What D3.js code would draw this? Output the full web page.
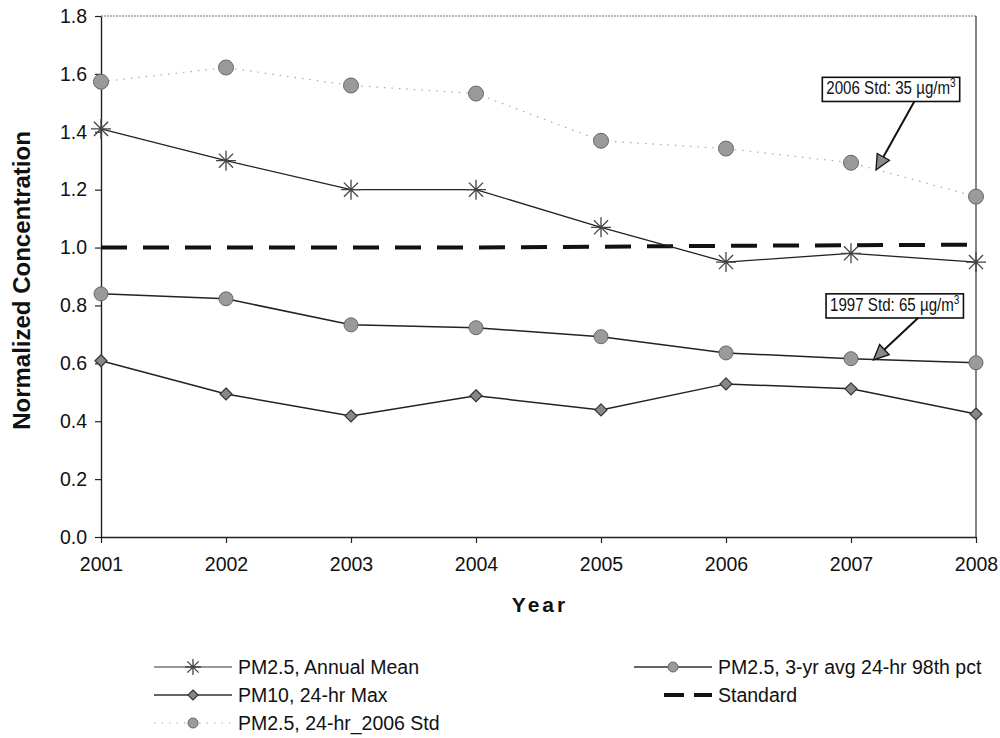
<!DOCTYPE html>
<html><head><meta charset="utf-8">
<script src="https://cdn.jsdelivr.net/npm/d3@7"></script>
<style>
body{margin:0;background:#fff;}
text{font-family:Arial,"Liberation Sans",sans-serif;}
</style></head>
<body>
<svg id="chart" width="1000" height="738"></svg>
<script>
const years = [2001, 2002, 2003, 2004, 2005, 2006, 2007, 2008];
const annualMean = [1.41, 1.30, 1.20, 1.20, 1.07, 0.95, 0.98, 0.95];
const pct98 = [0.84, 0.823, 0.733, 0.723, 0.692, 0.636, 0.616, 0.602];
const pm10Max = [0.609, 0.494, 0.418, 0.488, 0.439, 0.529, 0.512, 0.425];
const std2006 = [1.573, 1.622, 1.56, 1.532, 1.369, 1.342, 1.293, 1.176];
const standard = [1.0, 1.0, 1.0, 1.0, 1.003, 1.006, 1.008, 1.01];
const yTicks = [0, 0.2, 0.4, 0.6, 0.8, 1.0, 1.2, 1.4, 1.6, 1.8];
const legendLabels = ["PM2.5, Annual Mean", "PM10, 24-hr Max", "PM2.5, 24-hr_2006 Std", "PM2.5, 3-yr avg 24-hr 98th pct", "Standard"];
const annotations = [
  {label: "2006 Std: 35 µg/m", year: 2007.32, value: 1.53, tipYear: 2007.2, tipValue: 1.268},
  {label: "1997 Std: 65 µg/m", year: 2007.35, value: 0.782, tipYear: 2007.18, tipValue: 0.612}
];

const svg = d3.select("#chart");
const x = d3.scaleLinear().domain([2001, 2008]).range([101, 976]);
const y = d3.scaleLinear().domain([0, 1.8]).range([537, 16]);
const SX = 0.84; // horizontal compression of the scanned annotation text

// frame (top & right)
svg.append("line").attr("x1", x(2001)).attr("x2", x(2008)).attr("y1", y(1.8)).attr("y2", y(1.8))
  .attr("stroke", "#777").attr("stroke-width", 1.1).attr("stroke-dasharray", "2,1");
svg.append("line").attr("x1", x(2008)).attr("x2", x(2008)).attr("y1", y(1.8)).attr("y2", y(0))
  .attr("stroke", "#333").attr("stroke-width", 1.2);

// axes
const xAxis = svg.append("g").attr("transform", `translate(0,${y(0)})`)
  .call(d3.axisBottom(x).tickValues(years).tickFormat(d3.format("d")).tickSize(6).tickSizeOuter(0));
const yAxis = svg.append("g").attr("transform", `translate(${x(2001)},0)`)
  .call(d3.axisLeft(y).tickValues(yTicks).tickFormat(d3.format(".1f")).tickSize(6).tickSizeOuter(0));
[xAxis, yAxis].forEach(g => {
  g.select(".domain").attr("stroke", "#222").attr("stroke-width", 1.4);
  g.selectAll(".tick line").attr("stroke", "#222").attr("stroke-width", 1.2);
  g.selectAll(".tick text").attr("font-size", 19.5).attr("fill", "#111")
   .attr("font-family", "Arial, 'Liberation Sans', sans-serif");
});
xAxis.selectAll(".tick text").attr("dy", "1.3em");
yAxis.selectAll(".tick text").attr("x", -14);

// axis titles
svg.append("text").attr("transform", `translate(30,${(y(0)+y(1.8))/2 + 4}) rotate(-90)`)
  .attr("text-anchor", "middle").attr("font-size", 24).attr("font-weight", "bold").attr("fill", "#111")
  .text("Normalized Concentration");
svg.append("text").attr("x", 540).attr("y", 612).attr("text-anchor", "middle")
  .attr("font-size", 21).attr("font-weight", "bold").attr("fill", "#111").attr("letter-spacing", 3)
  .text("Year");

const line = d3.line().x((d, i) => x(years[i])).y(d => y(d));

// series lines
svg.append("path").datum(std2006).attr("d", line).attr("fill", "none")
  .attr("stroke", "#aaa").attr("stroke-width", 1.2).attr("stroke-dasharray", "1.5,6");
svg.append("path").datum(standard).attr("d", line).attr("fill", "none")
  .attr("stroke", "#111").attr("stroke-width", 4).attr("stroke-dasharray", "26,16");
svg.append("path").datum(annualMean).attr("d", line).attr("fill", "none")
  .attr("stroke", "#222").attr("stroke-width", 1.3);
svg.append("path").datum(pct98).attr("d", line).attr("fill", "none")
  .attr("stroke", "#222").attr("stroke-width", 1.5);
svg.append("path").datum(pm10Max).attr("d", line).attr("fill", "none")
  .attr("stroke", "#222").attr("stroke-width", 1.5);

// markers
function circleMark(g, cx, cy, r) {
  g.append("circle").attr("cx", cx).attr("cy", cy).attr("r", r)
    .attr("fill", "#9a9a9a").attr("stroke", "#666").attr("stroke-width", 1);
}
function diamondMark(g, cx, cy, s) {
  g.append("path").attr("d", `M${cx},${cy-s}L${cx+s},${cy}L${cx},${cy+s}L${cx-s},${cy}Z`)
    .attr("fill", "#888").attr("stroke", "#333").attr("stroke-width", 1.2);
}
function starMark(g, cx, cy, s) {
  const a = s * 0.707;
  g.append("path").attr("d",
    `M${cx-s},${cy}L${cx+s},${cy}M${cx},${cy-s}L${cx},${cy+s}M${cx-a},${cy-a}L${cx+a},${cy+a}M${cx-a},${cy+a}L${cx+a},${cy-a}`)
    .attr("stroke", "#444").attr("stroke-width", 1.3).attr("fill", "none");
}
const mk = svg.append("g");
std2006.forEach((v, i) => circleMark(mk, x(years[i]), y(v), 7.5));
pct98.forEach((v, i) => circleMark(mk, x(years[i]), y(v), 7));
pm10Max.forEach((v, i) => diamondMark(mk, x(years[i]), y(v), 6));
annualMean.forEach((v, i) => starMark(mk, x(years[i]), y(v), 10));

// annotations
annotations.forEach(a => {
  const g = svg.append("g");
  const cx = x(a.year), cy = y(a.value);
  const tg = g.append("g").attr("transform", `translate(${cx},${cy}) scale(${SX},1)`);
  const t = tg.append("text").attr("x", 0).attr("y", 0).attr("text-anchor", "middle")
    .attr("font-size", 18).attr("fill", "#111");
  t.append("tspan").text(a.label);
  t.append("tspan").attr("font-size", 12).attr("dy", -7).text("3");
  const bb = t.node().getBBox();
  const w = bb.width * SX, left = cx + bb.x * SX;
  g.insert("rect", "g").attr("x", left - 4).attr("y", cy + bb.y + 1).attr("width", w + 8).attr("height", bb.height + 2)
    .attr("fill", "#fff").attr("stroke", "#111").attr("stroke-width", 1.6);
  const sx = left + w * 0.68, sy = cy + bb.y + bb.height + 3;
  const tx = x(a.tipYear), ty = y(a.tipValue);
  const ang = Math.atan2(ty - sy, tx - sx);
  const L = 15, W = 7;
  const bx = tx - L * Math.cos(ang), by = ty - L * Math.sin(ang);
  g.append("line").attr("x1", sx).attr("y1", sy).attr("x2", bx).attr("y2", by)
    .attr("stroke", "#111").attr("stroke-width", 2);
  const px = -Math.sin(ang) * W, py = Math.cos(ang) * W;
  g.append("path").attr("d", `M${tx},${ty}L${bx+px},${by+py}L${bx-px},${by-py}Z`)
    .attr("fill", "#888").attr("stroke", "#111").attr("stroke-width", 1.3);
});

// legend
const lg = svg.append("g");
const legendItems = [
  {label: legendLabels[0], x0: 154, y0: 667, type: "star"},
  {label: legendLabels[1], x0: 154, y0: 695, type: "diamond"},
  {label: legendLabels[2], x0: 154, y0: 723, type: "dotcircle"},
  {label: legendLabels[3], x0: 634, y0: 667, type: "circle"},
  {label: legendLabels[4], x0: 634, y0: 695, type: "dash"}
];
legendItems.forEach(it => {
  const x1 = it.x0, x2 = it.x0 + 78, xm = (x1 + x2) / 2;
  if (it.type === "dotcircle") {
    lg.append("line").attr("x1", x1).attr("x2", x2).attr("y1", it.y0).attr("y2", it.y0)
      .attr("stroke", "#aaa").attr("stroke-width", 1.2).attr("stroke-dasharray", "1.5,6");
  } else if (it.type === "dash") {
    lg.append("line").attr("x1", x1 + 30).attr("x2", x2).attr("y1", it.y0).attr("y2", it.y0)
      .attr("stroke", "#111").attr("stroke-width", 4).attr("stroke-dasharray", "20,10");
  } else {
    lg.append("line").attr("x1", x1).attr("x2", x2).attr("y1", it.y0).attr("y2", it.y0)
      .attr("stroke", "#333").attr("stroke-width", it.type === "star" ? 1 : 1.5);
  }
  if (it.type === "star") starMark(lg, xm, it.y0, 8);
  if (it.type === "diamond") diamondMark(lg, xm, it.y0, 5);
  if (it.type === "circle" || it.type === "dotcircle") circleMark(lg, xm, it.y0, 5);
  lg.append("text").attr("x", x2 + 6).attr("y", it.y0).attr("dy", "0.36em")
    .attr("font-size", 19.5).attr("fill", "#111").text(it.label);
});
</script>
</body></html>
